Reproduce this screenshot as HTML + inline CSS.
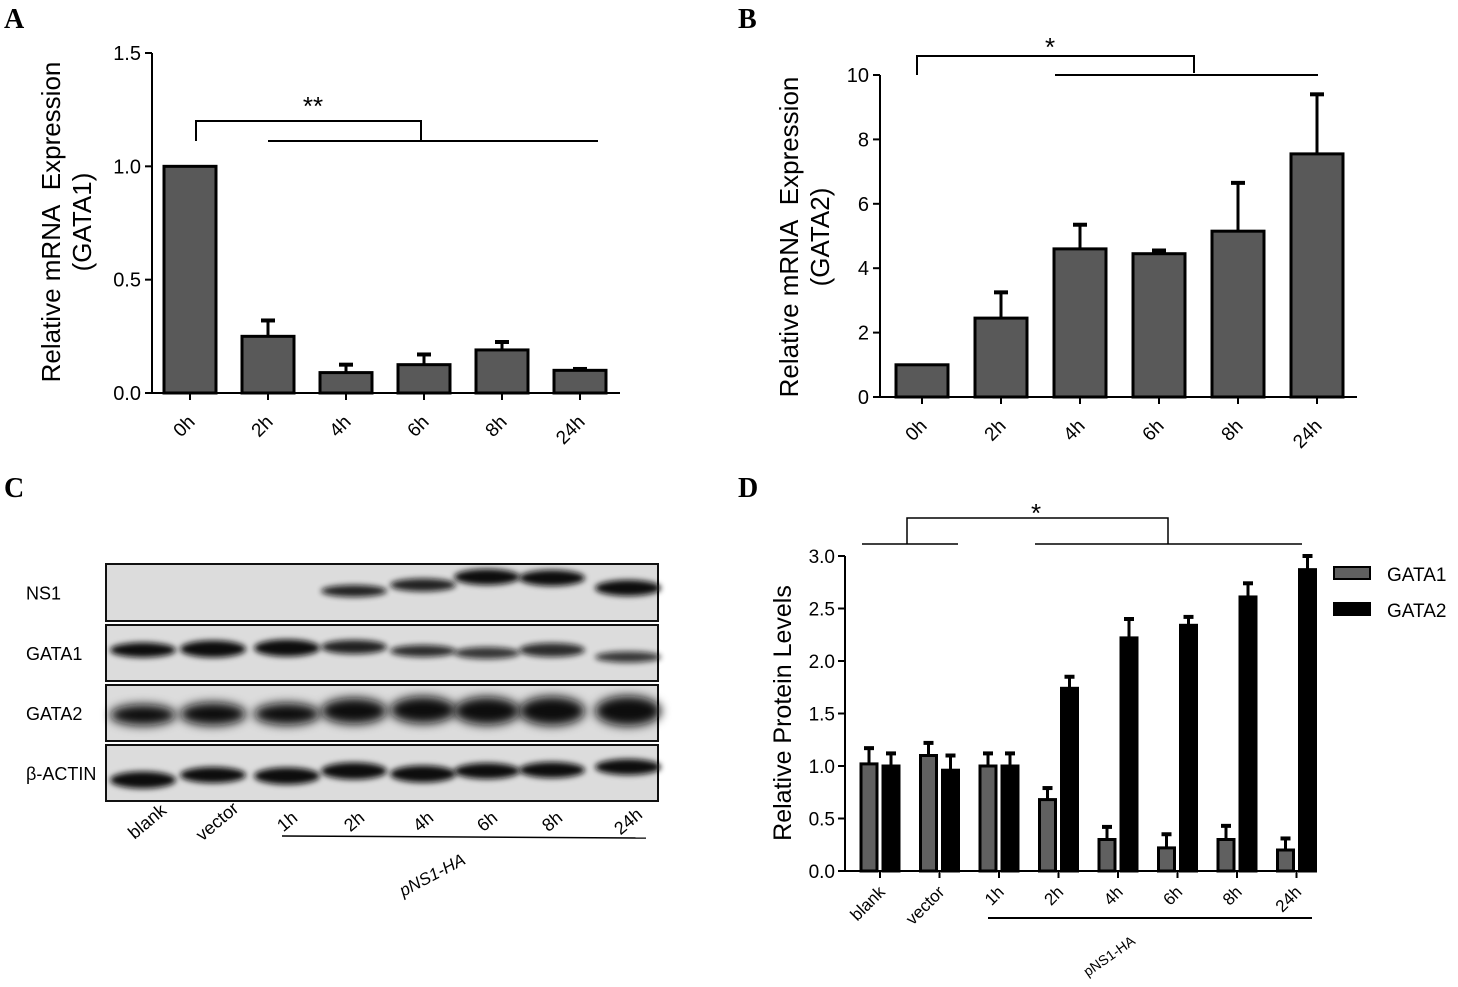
<!DOCTYPE html>
<html><head><meta charset="utf-8"><style>
body{margin:0;background:#fff}
svg{display:block;font-family:"Liberation Sans",Arial,sans-serif}
</style></head><body>
<svg id="fig" width="1458" height="987" viewBox="0 0 1458 987" xmlns="http://www.w3.org/2000/svg">
<defs>
<filter id="blur" x="-30%" y="-100%" width="160%" height="300%"><feGaussianBlur stdDeviation="3"/></filter>
<filter id="blur2" x="-30%" y="-100%" width="160%" height="300%"><feGaussianBlur stdDeviation="5"/></filter>
</defs>
<g font-family="Liberation Serif,serif" font-weight="bold" font-size="28">
<text x="4" y="28">A</text>
<text x="738" y="28">B</text>
<text x="4" y="497">C</text>
<text x="738" y="497">D</text>
</g>
<g id="pA"></g>
<g id="pB"></g>
<g id="pC"></g>
<g id="pD"></g>
</svg>
<script>
const timeCats=["0h","2h","4h","6h","8h","24h"];
const gata1Vals=[1.0,0.25,0.09,0.125,0.19,0.1];
const gata1Err=[0,0.07,0.035,0.045,0.035,0.006];
const aTicks=[0,0.5,1.0,1.5];
const gata2Vals=[1.0,2.45,4.6,4.45,5.15,7.55];
const gata2Err=[0,0.8,0.75,0.1,1.5,1.85];
const bTicks=[0,2,4,6,8,10];
const dCats=["blank","vector","1h","2h","4h","6h","8h","24h"];
const dGata1=[1.02,1.1,1.0,0.68,0.3,0.22,0.3,0.2];
const dGata1Err=[0.15,0.12,0.12,0.11,0.12,0.13,0.13,0.11];
const dGata2=[1.0,0.96,1.0,1.74,2.22,2.34,2.61,2.87];
const dGata2Err=[0.12,0.14,0.12,0.11,0.18,0.08,0.13,0.13];
const dTicks=[0,0.5,1.0,1.5,2.0,2.5,3.0];
const NS="http://www.w3.org/2000/svg";
function el(p,t,a,txt){const e=document.createElementNS(NS,t);for(const k in a)e.setAttribute(k,a[k]);if(txt!==undefined)e.textContent=txt;p.appendChild(e);return e;}
function line(p,x1,y1,x2,y2,w){return el(p,'line',{x1,y1,x2,y2,stroke:'#000','stroke-width':w||2});}

function barChart(g,o){
  const y=v=>o.y0-(v-o.min)/(o.max-o.min)*(o.y0-o.yTop);
  line(g,o.ax,o.yTop,o.ax,o.y0+1);
  line(g,o.ax-1,o.y0,o.xEnd,o.y0);
  o.ticks.forEach(t=>{const yy=y(t);line(g,o.ax-7,yy,o.ax,yy);
    const tl=el(g,'text',{x:o.ax-11,y:yy+7,'text-anchor':'end','font-size':20},o.fmt(t));
    
    });
  o.cats.forEach((c,i)=>{const cx=o.x0+i*o.step;
    line(g,cx,o.y0,cx,o.y0+7);
    const yv=y(o.vals[i]),ye=y(o.vals[i]+o.err[i]);
    if(o.err[i]>0){line(g,cx,ye,cx,yv,3);line(g,cx-7,ye,cx+7,ye,4);}
    const r=el(g,'rect',{x:cx-o.bw/2,y:yv,width:o.bw,height:o.y0-yv,fill:'#595959',stroke:'#000','stroke-width':3});
    
    
    const tx=el(g,'text',{x:cx+6,y:o.y0+30,'text-anchor':'end','font-size':19,transform:`rotate(-45 ${cx+6} ${o.y0+30})`},c);
    
    });
  const t=el(g,'text',{'font-size':26,'text-anchor':'middle',transform:`translate(${o.lx},${o.ly}) rotate(-90)`});
  
  
  el(t,'tspan',{x:0,dy:0},'Relative mRNA\u00a0\u00a0Expression');
  el(t,'tspan',{x:0,dy:31},o.sub);
}
const A=document.getElementById('pA');
barChart(A,{ax:152,y0:393,yTop:53,min:0,max:1.5,xEnd:620,x0:190,step:78,bw:52,cats:timeCats,vals:gata1Vals,err:gata1Err,ticks:aTicks,fmt:v=>v.toFixed(1),lx:60,ly:222,sub:'(GATA1)'});
el(A,'path',{d:'M196 141V121H421V141M268 141H598',fill:'none',stroke:'#000','stroke-width':2});
el(A,'text',{x:313,y:115,'font-size':26,'text-anchor':'middle'},'**');
const B=document.getElementById('pB');
barChart(B,{ax:880,y0:397,yTop:75,min:0,max:10,xEnd:1357,x0:922,step:79,bw:52,cats:timeCats,vals:gata2Vals,err:gata2Err,ticks:bTicks,fmt:v=>String(v),lx:798,ly:237,sub:'(GATA2)'});
el(B,'path',{d:'M917 75V56H1194V73M1055 75H1318',fill:'none',stroke:'#000','stroke-width':2});
el(B,'text',{x:1050,y:56,'font-size':26,'text-anchor':'middle'},'*');

// Panel C western blot
const C=document.getElementById('pC');
const lanes=[143,213,287,354,423,487,552,628];
const rows=[{n:'NS1',y:564,h:57},{n:'GATA1',y:625,h:56},{n:'GATA2',y:685,h:56},{n:'β-ACTIN',y:745,h:56}];
const bands=[
 [[0,0,0],[0,0,0],[0,0,0],[591,8,0.9],[585,9,0.9],[577,12,1],[578,12,1],[588,12,1]],
 [[650,11,1],[649,13,1],[648,13,1],[647,10,0.9],[651,8,0.85],[653,8,0.8],[650,10,0.85],[657,7,0.8]],
 [[715,17,1],[714,19,1],[714,18,1],[711,22,1],[710,23,1],[711,24,1],[711,25,1],[711,26,1]],
 [[780,13,1],[775,12,1],[776,13,1],[771,13,1],[774,13,1],[771,12,1],[770,12,1],[767,12,1]]];
rows.forEach((r,ri)=>{
  el(C,'rect',{x:106,y:r.y,width:552,height:r.h,fill:'#dcdcdc',stroke:'#111','stroke-width':2});
  const lb=el(C,'text',{x:26,y:r.y+r.h/2+7,'font-size':18},r.n);
  
  
  lanes.forEach((lx,li)=>{const b=bands[ri][li];if(!b[1])return;
    el(C,'ellipse',{cx:lx,cy:b[0],rx:33,ry:b[1]/2+2,fill:'#111',opacity:b[2],filter:ri==2?'url(#blur2)':'url(#blur)'});});
});
const cl=["blank","vector","1h","2h","4h","6h","8h","24h"];
cl.forEach((c,i)=>{const x=lanes[i]+(i<2?8:4);const t=el(C,'text',{x:x,y:826,'font-size':18,'text-anchor':'middle',transform:`rotate(-40 ${x} 826)`},c);
  
  });
line(C,282,836,646,838,1.5);
el(C,'text',{x:435,y:880,'font-size':17,'font-style':'italic','text-anchor':'middle',transform:'rotate(-28 435 880)'},'pNS1-HA');

// Panel D
const D=document.getElementById('pD');
const dy0=871,dyTop=556,dax=845,dx0=880,dstep=59.5;
const dy=v=>dy0-v/3*(dy0-dyTop);
line(D,dax,dyTop,dax,dy0+1);line(D,dax-1,dy0,1315,dy0);
dTicks.forEach(t=>{const yy=dy(t);line(D,dax-7,yy,dax,yy);el(D,'text',{x:dax-10,y:yy+7,'text-anchor':'end','font-size':19},t.toFixed(1));});
dCats.forEach((c,i)=>{const cx=dx0+i*dstep;line(D,cx,dy0,cx,dy0+7);
  [[dGata1,dGata1Err,-11,'#606060','gata1'],[dGata2,dGata2Err,11,'#000','gata2']].forEach(s=>{
    const bx=cx+s[2],v=s[0][i],e=s[1][i],yv=dy(v),ye=dy(v+e);
    line(D,bx,ye,bx,yv,3);line(D,bx-5,ye,bx+5,ye,4);
    const r=el(D,'rect',{x:bx-8,y:yv,width:16,height:dy0-yv,fill:s[3],stroke:'#000','stroke-width':3});
    
    });
  const t=el(D,'text',{x:cx+6,y:dy0+22,'text-anchor':'end','font-size':17,transform:`rotate(-45 ${cx+6} ${dy0+22})`},c);
  
  });
const dt=el(D,'text',{'font-size':25,'text-anchor':'middle',transform:'translate(791,713) rotate(-90)'},'Relative Protein Levels');


el(D,'path',{d:'M862 544H958M907 544V518H1168V544M1035 544H1302',fill:'none',stroke:'#000','stroke-width':1.5});
el(D,'text',{x:1036,y:522,'font-size':26,'text-anchor':'middle'},'*');
line(D,988,918,1312,918,2);
el(D,'text',{x:1112,y:960,'font-size':14,'text-anchor':'middle',transform:'rotate(-35 1112 960)'},'pNS1-HA');
const lg1=el(D,'rect',{x:1334,y:567,width:36,height:12,fill:'#606060',stroke:'#000','stroke-width':2});


el(D,'text',{x:1387,y:581,'font-size':19},'GATA1');
const lg2=el(D,'rect',{x:1334,y:603,width:36,height:12,fill:'#000',stroke:'#000','stroke-width':2});


el(D,'text',{x:1387,y:617,'font-size':19},'GATA2');
</script>
</body></html>
